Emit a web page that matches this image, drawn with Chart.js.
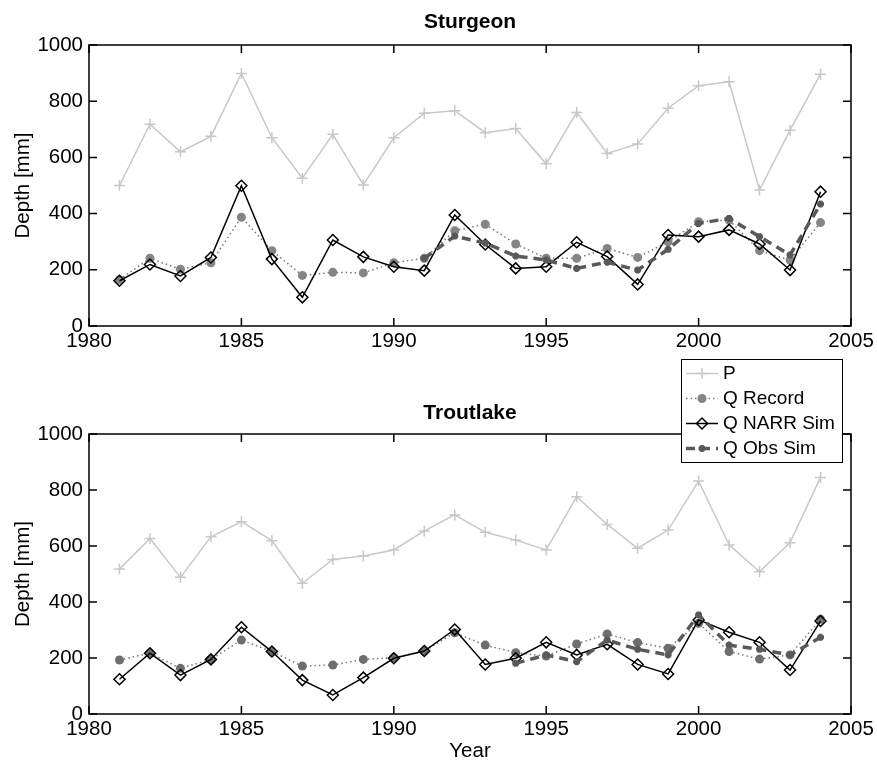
<!DOCTYPE html>
<html>
<head>
<meta charset="utf-8">
<title>Sturgeon / Troutlake depth</title>
<script src="https://cdn.jsdelivr.net/npm/chart.js@4.4.1/dist/chart.umd.min.js"></script>
<style>
  html, body { margin: 0; padding: 0; background: #fff; }
  #wrap { position: relative; width: 877px; height: 765px; }
  #wrap canvas { position: absolute; left: 0; top: 0; }
</style>
</head>
<body>
<div id="wrap">
  <canvas id="troutlakeChart" width="877" height="765"></canvas>
  <canvas id="sturgeonChart" width="877" height="765"></canvas>
</div>
<script>
// Years on the x axis
const years = [1981, 1982, 1983, 1984, 1985, 1986, 1987, 1988, 1989, 1990, 1991, 1992,
               1993, 1994, 1995, 1996, 1997, 1998, 1999, 2000, 2001, 2002, 2003, 2004];

// Sturgeon (top panel), depth in mm
const sturgeonP      = [500, 718, 620, 675, 899, 670, 526, 682, 502, 670, 757, 766,
                        688, 703, 577, 760, 614, 648, 775, 855, 869, 484, 697, 896];
const sturgeonRecord = [165, 241, 202, 225, 387, 268, 180, 191, 189, 225, 241, 339,
                        362, 292, 241, 241, 276, 244, 300, 371, 377, 268, 235, 368];
const sturgeonNarr   = [161, 219, 178, 244, 499, 238, 102, 306, 246, 211, 197, 395,
                        290, 205, 211, 298, 247, 148, 324, 318, 342, 292, 199, 478];
const sturgeonObs    = [null, null, null, null, null, null, null, null, null, null, 241, 320,
                        295, 249, 235, 205, 227, 199, 273, 365, 383, 318, 253, 434];

// Troutlake (bottom panel), depth in mm
const troutP      = [518, 627, 488, 633, 687, 619, 467, 552, 564, 586, 654, 711,
                     649, 621, 586, 776, 677, 592, 657, 832, 604, 508, 612, 845];
const troutRecord = [193, 217, 163, 195, 264, 223, 171, 175, 195, 201, 225, 290,
                     246, 219, 207, 250, 286, 255, 235, 324, 223, 196, 211, 338];
const troutNarr   = [124, 217, 139, 195, 310, 223, 121, 68, 130, 199, 225, 302,
                     177, 199, 256, 211, 249, 177, 143, 336, 292, 256, 157, 332];
const troutObs    = [null, null, null, null, null, null, null, null, null, null, null, null,
                     null, 181, 211, 187, 264, 231, 211, 354, 246, 231, 211, 274];

// Axis ticks
const xTicks = { min: 1980, max: 2005, step: 5 };
const yTicks = { min: 0, max: 1000, step: 200 };

const FONT = '"Liberation Sans", Arial, Helvetica, sans-serif';
Chart.defaults.font.family = FONT;
Chart.defaults.color = '#000';

function toPoints(values) {
    return years.map((yr, i) => ({ x: yr, y: values[i] })).filter(p => p.y !== null);
}

function buildDatasets(p, rec, narr, obs, recColor) {
    return [
        {
            label: 'P', data: toPoints(p), order: 4,
            borderColor: '#c8c8c8', borderWidth: 1.5,
            pointStyle: 'cross', pointRadius: 5.5, pointBorderWidth: 1.5,
            pointBorderColor: '#c8c8c8', pointBackgroundColor: '#c8c8c8'
        },
        {
            label: 'Q Record', data: toPoints(rec), order: 3,
            borderColor: '#777777', borderWidth: 1.5, borderDash: [1.5, 3],
            pointStyle: 'circle', pointRadius: 4.5, pointBorderWidth: 0,
            pointBorderColor: recColor, pointBackgroundColor: recColor
        },
        {
            label: 'Q NARR Sim', data: toPoints(narr), order: 2,
            borderColor: '#000000', borderWidth: 1.5,
            pointStyle: 'rectRot', pointRadius: 5.5, pointBorderWidth: 1.5,
            pointBorderColor: '#000000', pointBackgroundColor: 'rgba(0,0,0,0)'
        },
        {
            label: 'Q Obs Sim', data: toPoints(obs), order: 1,
            borderColor: '#595959', borderWidth: 3.5, borderDash: [9, 6],
            pointStyle: 'star', pointRadius: 3.5, pointBorderWidth: 2.5,
            pointBorderColor: '#595959', pointBackgroundColor: '#595959'
        }
    ];
}

// MATLAB-like box with inward ticks on all four sides
const boxAxes = {
    id: 'boxAxes',
    afterDatasetsDraw(chart) {
        const { ctx, chartArea: a, scales: { x, y } } = chart;
        const len = 8;
        ctx.save();
        ctx.strokeStyle = '#000';
        ctx.lineWidth = 1.5;
        ctx.strokeRect(a.left, a.top, a.right - a.left, a.bottom - a.top);
        ctx.beginPath();
        x.ticks.forEach(t => {
            const px = x.getPixelForValue(t.value);
            ctx.moveTo(px, a.bottom); ctx.lineTo(px, a.bottom - len);
            ctx.moveTo(px, a.top); ctx.lineTo(px, a.top + len);
        });
        y.ticks.forEach(t => {
            const py = y.getPixelForValue(t.value);
            ctx.moveTo(a.left, py); ctx.lineTo(a.left + len, py);
            ctx.moveTo(a.right, py); ctx.lineTo(a.right - len, py);
        });
        ctx.stroke();
        ctx.restore();
    }
};

// Legend box drawn from the dataset styles
const boxLegend = {
    id: 'boxLegend',
    afterDraw(chart, args, opts) {
        if (!opts.show) return;
        const ctx = chart.ctx;
        ctx.save();
        ctx.fillStyle = '#fff';
        ctx.fillRect(opts.left, opts.top, opts.right - opts.left, opts.bottom - opts.top);
        ctx.strokeStyle = '#000';
        ctx.lineWidth = 1;
        ctx.strokeRect(opts.left + 0.5, opts.top + 0.5, opts.right - opts.left, opts.bottom - opts.top);
        const mid = (opts.lineStart + opts.lineEnd) / 2;
        chart.data.datasets.forEach((ds, i) => {
            const yy = opts.firstRow + i * opts.rowGap;
            ctx.setLineDash(ds.borderDash || []);
            ctx.strokeStyle = ds.borderColor;
            ctx.lineWidth = ds.borderWidth;
            ctx.beginPath();
            ctx.moveTo(opts.lineStart, yy);
            ctx.lineTo(opts.lineEnd, yy);
            ctx.stroke();
            ctx.setLineDash([]);
            ctx.fillStyle = ds.pointBackgroundColor;
            ctx.strokeStyle = ds.pointBorderColor;
            ctx.lineWidth = ds.pointBorderWidth;
            Chart.helpers.drawPoint(ctx, {
                pointStyle: ds.pointStyle, radius: ds.pointRadius,
                rotation: 0, borderWidth: ds.pointBorderWidth
            }, mid, yy);
            ctx.fillStyle = '#000';
            ctx.font = opts.fontSize + 'px ' + FONT;
            ctx.textBaseline = 'middle';
            ctx.textAlign = 'left';
            ctx.fillText(ds.label, opts.textX, yy);
        });
        ctx.restore();
    }
};

function buildOptions(cfg) {
    return {
        responsive: false,
        animation: false,
        events: [],
        elements: { line: { tension: 0, fill: false } },
        layout: { padding: { left: 0, right: 26, top: cfg.padTop, bottom: 0 } },
        plugins: {
            legend: { display: false },
            tooltip: { enabled: false },
            title: {
                display: true, text: cfg.title, fullSize: false, color: '#000',
                font: { size: 21, weight: 'bold' },
                padding: { top: 0, bottom: cfg.titleGap }
            },
            boxLegend: cfg.legend
        },
        scales: {
            x: {
                type: 'linear', min: xTicks.min, max: xTicks.max,
                grid: { display: false, drawTicks: false },
                border: { display: false },
                ticks: {
                    stepSize: xTicks.step, padding: 3, maxRotation: 0, color: '#000',
                    font: { size: 20.5 }, callback: v => String(v)
                },
                title: {
                    display: cfg.showYear, text: 'Year', color: '#000',
                    font: { size: 20.5 }, padding: { top: 0, bottom: 1 }
                },
                afterFit: s => { s.height = cfg.xAxisHeight; }
            },
            y: {
                type: 'linear', min: yTicks.min, max: yTicks.max,
                grid: { display: false, drawTicks: false },
                border: { display: false },
                ticks: {
                    stepSize: yTicks.step, padding: 6, color: '#000',
                    font: { size: 20.5 }, callback: v => String(v)
                },
                title: {
                    display: true, text: 'Depth [mm]', color: '#000',
                    font: { size: 20.5 }, padding: { top: 10.7, bottom: 0 }
                },
                afterFit: s => { s.width = 89; }
            }
        }
    };
}

new Chart(document.getElementById('troutlakeChart'), {
    type: 'line',
    data: { datasets: buildDatasets(troutP, troutRecord, troutNarr, troutObs, '#6e6e6e') },
    options: buildOptions({
        title: 'Troutlake', padTop: 400.4, titleGap: 8.4,
        xAxisHeight: 51, showYear: true, legend: { show: false }
    }),
    plugins: [boxAxes, boxLegend]
});

new Chart(document.getElementById('sturgeonChart'), {
    type: 'line',
    data: { datasets: buildDatasets(sturgeonP, sturgeonRecord, sturgeonNarr, sturgeonObs, '#858585') },
    options: buildOptions({
        title: 'Sturgeon', padTop: 10, titleGap: 9.8,
        xAxisHeight: 439, showYear: false,
        legend: {
            show: true, left: 681, top: 359, right: 842, bottom: 462,
            firstRow: 373.5, rowGap: 25, lineStart: 686, lineEnd: 718,
            textX: 723, fontSize: 19
        }
    }),
    plugins: [boxAxes, boxLegend]
});
</script>
</body>
</html>
